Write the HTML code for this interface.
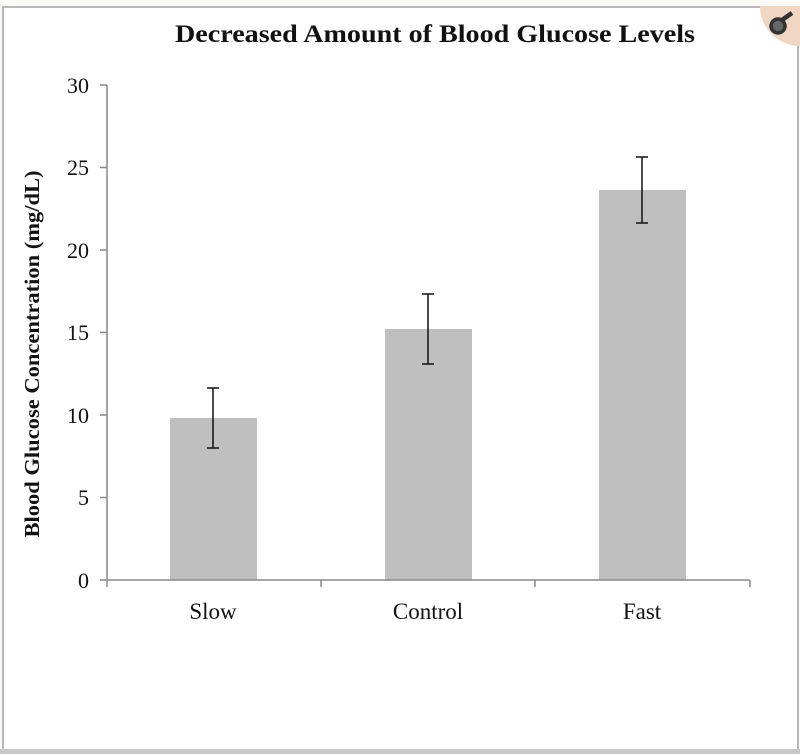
<!DOCTYPE html>
<html><head><meta charset="utf-8"><style>
html,body{margin:0;padding:0;background:#fff;}
svg{display:block;}
text{font-family:"Liberation Serif",serif;fill:#111;}
</style></head><body>
<svg width="800" height="754" viewBox="0 0 800 754" xmlns="http://www.w3.org/2000/svg">
<rect x="0" y="0" width="800" height="754" fill="#fbfaf6"/>
<rect x="3" y="7" width="795" height="743" fill="#fff" stroke="#b8b8b8" stroke-width="2"/>
<rect x="0" y="749" width="800" height="5" fill="#c8c8c8"/>
<path d="M760 6 H800 V46 A40 40 0 0 1 760 6 Z" fill="#f1d6c4"/>
<circle cx="778" cy="26" r="7" fill="#666" stroke="#333" stroke-width="3.5"/>
<line x1="782" y1="20" x2="792" y2="13" stroke="#333" stroke-width="4.5"/>
<text x="435" y="42" font-size="25" font-weight="bold" text-anchor="middle" textLength="520" lengthAdjust="spacingAndGlyphs">Decreased Amount of Blood Glucose Levels</text>
<g fill="#bfbfbf">
<rect x="170" y="418" width="87" height="162"/>
<rect x="385" y="329" width="87" height="251"/>
<rect x="599" y="190" width="87" height="390"/>
</g>
<g stroke="#888" stroke-width="1.5" fill="none">
<line x1="107" y1="85" x2="107" y2="580"/>
<line x1="107" y1="580" x2="750" y2="580"/>
<line x1="100" y1="85" x2="107" y2="85"/>
<line x1="100" y1="167.5" x2="107" y2="167.5"/>
<line x1="100" y1="250" x2="107" y2="250"/>
<line x1="100" y1="332.5" x2="107" y2="332.5"/>
<line x1="100" y1="415" x2="107" y2="415"/>
<line x1="100" y1="497.5" x2="107" y2="497.5"/>
<line x1="100" y1="580" x2="107" y2="580"/>
<line x1="107" y1="580" x2="107" y2="587"/>
<line x1="321" y1="580" x2="321" y2="587"/>
<line x1="535" y1="580" x2="535" y2="587"/>
<line x1="750" y1="580" x2="750" y2="587"/>
</g>
<g stroke="#111" stroke-width="1.5">
<line x1="213" y1="388" x2="213" y2="448"/><line x1="207" y1="388" x2="219" y2="388"/><line x1="207" y1="448" x2="219" y2="448"/>
<line x1="428" y1="294" x2="428" y2="364"/><line x1="422" y1="294" x2="434" y2="294"/><line x1="422" y1="364" x2="434" y2="364"/>
<line x1="642" y1="157" x2="642" y2="223"/><line x1="636" y1="157" x2="648" y2="157"/><line x1="636" y1="223" x2="648" y2="223"/>
</g>
<g font-size="22" text-anchor="end">
<text x="89" y="93">30</text><text x="89" y="175">25</text><text x="89" y="258">20</text>
<text x="89" y="340">15</text><text x="89" y="423">10</text><text x="89" y="505">5</text><text x="89" y="588">0</text>
</g>
<g font-size="23" text-anchor="middle">
<text x="213" y="619">Slow</text><text x="428" y="619">Control</text><text x="642" y="619">Fast</text>
</g>
<text transform="translate(39,354) rotate(-90)" font-size="21" font-weight="bold" text-anchor="middle" textLength="367" lengthAdjust="spacingAndGlyphs">Blood Glucose Concentration (mg/dL)</text>
</svg>
</body></html>
